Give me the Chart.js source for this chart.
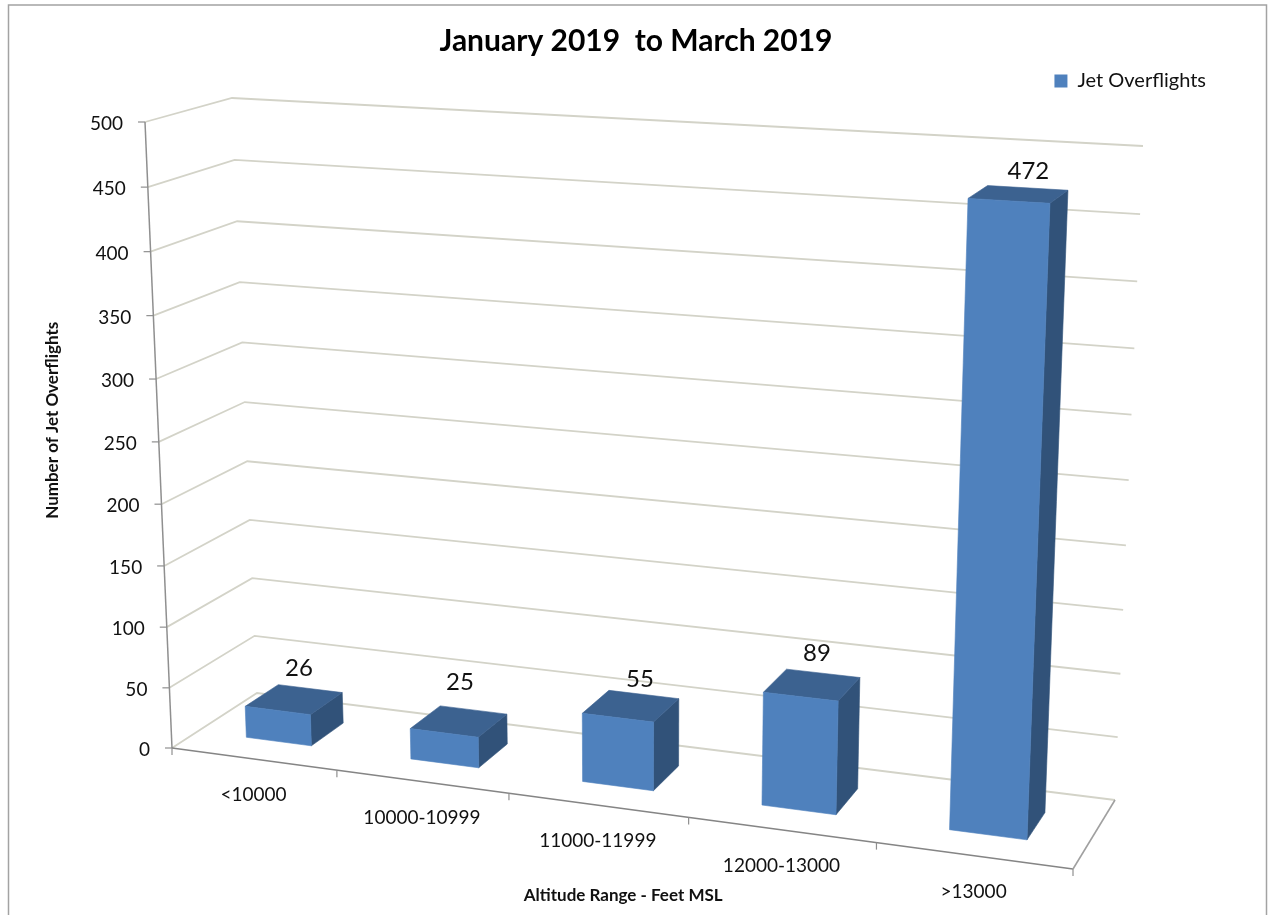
<!DOCTYPE html>
<html>
<head>
<meta charset="utf-8">
<title>Jet Overflights</title>
<script src="https://cdn.jsdelivr.net/npm/chart.js@4"></script>
<style>
  html, body { margin: 0; padding: 0; background: #fff; overflow: hidden; }
  canvas { display: block; }
</style>
</head>
<body>
<canvas id="overflightChart" width="1272" height="915"></canvas>
<script>
const altitudes = ["<10000", "10000-10999", "11000-11999", "12000-13000", ">13000"];
const overflights = [26, 25, 55, 89, 472];
const valueTicks = [0, 50, 100, 150, 200, 250, 300, 350, 400, 450, 500];

// where the excel 3d box sits on the page, b = floor, t = top of the value axis
const box = {
  frontLeftB: [172, 748], frontRightB: [1073, 869], backLeftB: [257, 693], backRightB: [1115, 800],
  frontLeftT: [145, 122], frontRightT: [1101, 177], backLeftT: [232, 98], backRightT: [1143, 146]
};
const widthBend = 1.116;
const heightBend = 1.045;
const barFront = 0.31;
const barBack = 0.71;
const labelNudge = [[5, -31], [1, -39], [9, -27], [5, -32], [10, -23]];

const FONT = "Lato";
const bend = (t, r) => t / (t + (1 - t) * r);
const mix = (a, b, t) => [a[0] + (b[0] - a[0]) * t, a[1] + (b[1] - a[1]) * t];

// chart area pixel + depth (0 front, 1 back) -> page position
function project(chart, px, py, depth) {
  const area = chart.chartArea;
  const u = bend((px - area.left) / area.width, widthBend);
  const v = bend((area.bottom - py) / area.height, heightBend);
  const floor = mix(mix(box.frontLeftB, box.frontRightB, u), mix(box.backLeftB, box.backRightB, u), depth);
  const roof = mix(mix(box.frontLeftT, box.frontRightT, u), mix(box.backLeftT, box.backRightT, u), depth);
  return mix(floor, roof, v);
}

function line(ctx, pts, color, width) {
  ctx.beginPath();
  pts.forEach((p, i) => (i ? ctx.lineTo(p[0], p[1]) : ctx.moveTo(p[0], p[1])));
  ctx.strokeStyle = color;
  ctx.lineWidth = width;
  ctx.stroke();
}

function face(ctx, pts, color) {
  ctx.beginPath();
  pts.forEach((p, i) => (i ? ctx.lineTo(p[0], p[1]) : ctx.moveTo(p[0], p[1])));
  ctx.closePath();
  ctx.fillStyle = color;
  ctx.fill();
  ctx.strokeStyle = color;
  ctx.lineWidth = 0.6;
  ctx.stroke();
}

const box3d = {
  id: "box3d",
  afterLayout(chart) {
    chart.titleBlock.left = 0;
    chart.titleBlock.right = chart.width;
    chart.legend.right = 1216;
  },
  beforeDraw(chart) {
    const ctx = chart.ctx;
    ctx.save();
    ctx.strokeStyle = "#a3a3a3";
    ctx.lineWidth = 1.5;
    ctx.strokeRect(8.5, 5, 1258, 1000);
    ctx.restore();
  },
  beforeDatasetsDraw(chart) {
    const ctx = chart.ctx;
    const { x, y } = chart.scales;
    const area = chart.chartArea;
    ctx.save();

    // gridlines, left wall then back wall
    y.ticks.forEach(t => {
      const py = y.getPixelForValue(t.value);
      line(ctx, [
        project(chart, area.left, py, 0),
        project(chart, area.left, py, 1),
        project(chart, area.right, py, 1)
      ], "#d3d3c8", 1.8);
    });

    // value axis
    line(ctx, [project(chart, area.left, area.top, 0), project(chart, area.left, area.bottom, 0)], "#8f8f8f", 1.5);
    ctx.fillStyle = "#111";
    ctx.font = "19px " + FONT;
    ctx.textAlign = "right";
    ctx.textBaseline = "middle";
    y.ticks.forEach(t => {
      const p = project(chart, area.left, y.getPixelForValue(t.value), 0);
      line(ctx, [p, [p[0] - 7, p[1]]], "#8f8f8f", 1.2);
      ctx.fillText(t.value, p[0] - 22, p[1] + 2);
    });

    // floor edges
    const fl = project(chart, area.left, area.bottom, 0);
    const fr = project(chart, area.right, area.bottom, 0);
    line(ctx, [fl, fr], "#858585", 1.6);
    line(ctx, [fr, project(chart, area.right, area.bottom, 1)], "#a0a0a0", 1.6);
    const step = area.width / altitudes.length;
    for (let i = 0; i <= altitudes.length; i++) {
      const p = project(chart, area.left + step * i, area.bottom, 0);
      line(ctx, [p, [p[0], p[1] + 7]], "#8f8f8f", 1.2);
    }

    // category labels
    ctx.textAlign = "center";
    ctx.fillStyle = "#111";
    altitudes.forEach((name, i) => {
      const p = project(chart, x.getPixelForValue(i), area.bottom, 0);
      ctx.fillText(name, p[0], p[1] + 36);
    });
    ctx.restore();
  },
  beforeDatasetDraw(chart, args) {
    const ctx = chart.ctx;
    ctx.save();
    args.meta.data.forEach((bar, i) => {
      const l = bar.x - bar.width / 2;
      const r = bar.x + bar.width / 2;
      const fTL = project(chart, l, bar.y, barFront);
      const fTR = project(chart, r, bar.y, barFront);
      const fBL = project(chart, l, bar.base, barFront);
      const fBR = project(chart, r, bar.base, barFront);
      const bTL = project(chart, l, bar.y, barBack);
      const bTR = project(chart, r, bar.y, barBack);
      const bBR = project(chart, r, bar.base, barBack);
      face(ctx, [fTR, bTR, bBR, fBR], "#315279");
      face(ctx, [fTL, bTL, bTR, fTR], "#3c6290");
      face(ctx, [fTL, fTR, fBR, fBL], "#4f81bd");

      const cx = (fTL[0] + fTR[0] + bTL[0] + bTR[0]) / 4;
      const cy = (fTL[1] + fTR[1] + bTL[1] + bTR[1]) / 4;
      ctx.fillStyle = "#111";
      ctx.font = "24px " + FONT;
      ctx.textAlign = "center";
      ctx.textBaseline = "middle";
      ctx.fillText(overflights[i], cx + labelNudge[i][0], cy + labelNudge[i][1]);
    });
    ctx.restore();
    return false;
  }
};

new Chart(document.getElementById("overflightChart"), {
  type: "bar",
  data: {
    labels: altitudes,
    datasets: [
      {
        label: "Jet Overflights",
        data: overflights,
        backgroundColor: "#4f81bd",
        barPercentage: 0.4,
        categoryPercentage: 1
      }
    ]
  },
  plugins: [box3d],
  options: {
    responsive: false,
    animation: false,
    devicePixelRatio: 1,
    events: [],
    layout: { padding: { left: 0, right: 96, top: 0, bottom: 0 } },
    plugins: {
      title: {
        display: true,
        text: "January 2019  to March 2019",
        color: "#000",
        font: { family: FONT, size: 30, weight: "bold" },
        padding: { top: 23, bottom: 2 }
      },
      legend: {
        position: "top",
        align: "end",
        labels: {
          color: "#111",
          font: { family: FONT, size: 20 },
          boxWidth: 13,
          boxHeight: 13,
          padding: 10
        }
      },
      tooltip: { enabled: false }
    },
    scales: {
      x: {
        grid: { display: false },
        border: { display: false },
        ticks: { display: false },
        title: {
          display: true,
          text: "Altitude Range - Feet MSL",
          color: "#111",
          font: { family: FONT, size: 17, weight: "bold" },
          padding: { top: 138, bottom: 9 }
        }
      },
      y: {
        min: 0,
        max: 500,
        afterBuildTicks: scale => { scale.ticks = valueTicks.map(value => ({ value })); },
        grid: { display: false },
        border: { display: false },
        ticks: { display: false },
        title: {
          display: true,
          text: "Number of Jet Overflights",
          color: "#111",
          font: { family: FONT, size: 17, weight: "bold" },
          padding: { top: 42, bottom: 0 }
        }
      }
    }
  }
});
</script>
</body>
</html>
